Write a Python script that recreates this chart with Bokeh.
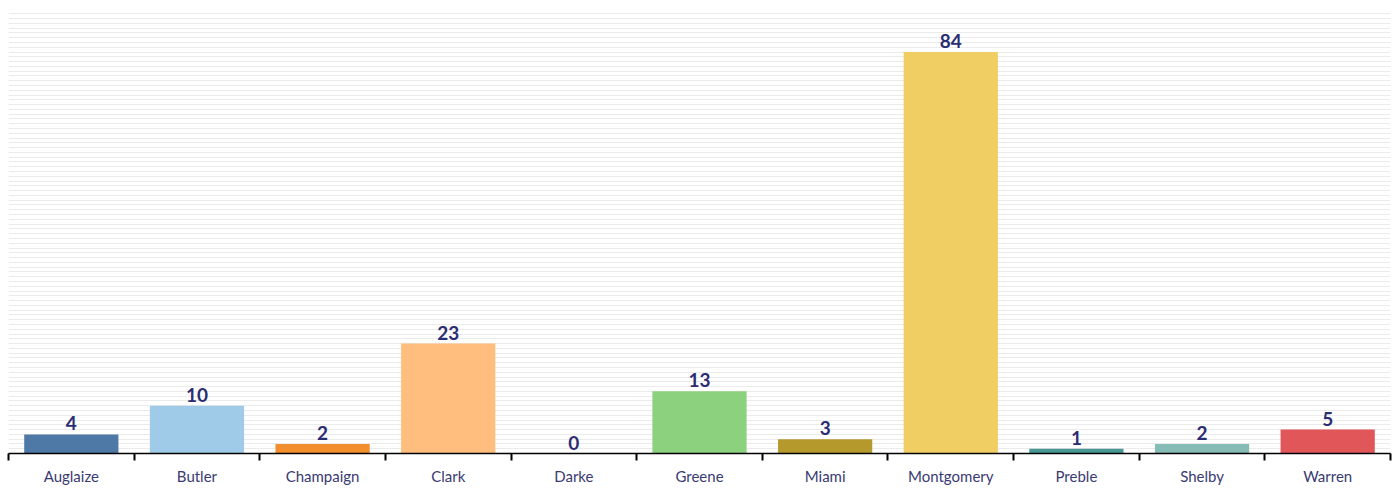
from bokeh.plotting import figure
from bokeh.models import ColumnDataSource, FixedTicker, Range1d, LabelSet
from bokeh.core.properties import value
from bokeh.embed import file_html
from bokeh.resources import INLINE

counties = ["Auglaize", "Butler", "Champaign", "Clark", "Darke", "Greene",
            "Miami", "Montgomery", "Preble", "Shelby", "Warren"]
counts = [4, 10, 2, 23, 0, 13, 3, 84, 1, 2, 5]
colors = ["#4e79a7", "#a0cbe8", "#f28e2b", "#ffbe7d", "#59a14f", "#8cd17d",
          "#b6992d", "#f1ce63", "#499894", "#86bcb6", "#e15759"]

n = len(counties)
xs = [i + 0.5 for i in range(n)]
src = ColumnDataSource(dict(x=xs, top=counts, color=colors,
                            label=[str(c) for c in counts]))

p = figure(frame_width=1382, frame_height=443, output_backend="svg",
           toolbar_location=None,
           x_range=Range1d(0, n), y_range=Range1d(0, 92.7),
           min_border_left=8, min_border_right=4, min_border_top=10,
           min_border_bottom=0)
p.outline_line_color = None
p.background_fill_color = "white"
p.border_fill_color = "white"

p.vbar(x="x", top="top", width=0.75, bottom=0, color="color", source=src,
       line_color=None)

labels = LabelSet(x="x", y="top", text="label", source=src, text_align="center",
                  text_baseline="bottom", y_offset=4, text_font=value("Lato"),
                  text_font_style="bold", text_font_size="19px",
                  text_color="#2b2d72")
p.add_layout(labels)

p.yaxis.visible = False
p.xgrid.visible = False
p.ygrid.ticker = FixedTicker(ticks=[float(i) for i in range(1, 93)])
p.ygrid.grid_line_color = "#ebebeb"
p.ygrid.grid_line_width = 1

ax = p.xaxis[0]
ax.ticker = FixedTicker(ticks=xs, minor_ticks=[float(i) for i in range(n + 1)])
ax.major_label_overrides = {x: c for x, c in zip(xs, counties)}
ax.major_tick_out = 0
ax.major_tick_in = 0
ax.minor_tick_out = 7
ax.minor_tick_in = 0
ax.minor_tick_line_color = "black"
ax.minor_tick_line_width = 2
ax.axis_line_color = "black"
ax.axis_line_width = 1.5
ax.major_label_standoff = 6
ax.major_label_text_font = "Lato"
ax.major_label_text_font_size = "15px"
ax.major_label_text_color = "#3a3a72"

open("out.html", "w").write(file_html(p, INLINE))
